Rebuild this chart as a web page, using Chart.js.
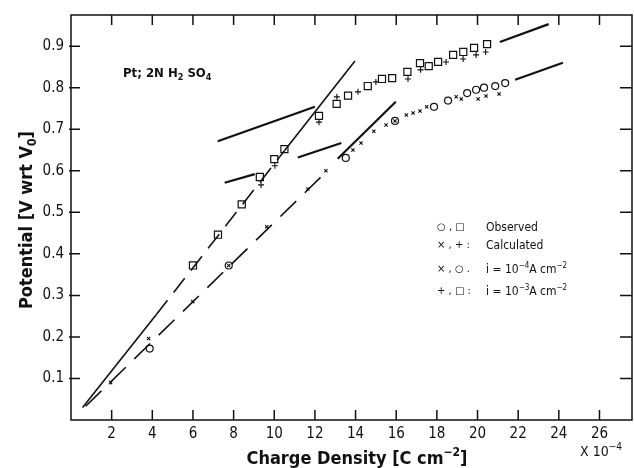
<!DOCTYPE html>
<html>
<head>
<meta charset="utf-8">
<script src="https://cdn.jsdelivr.net/npm/chart.js@4.4.1/dist/chart.umd.min.js"></script>
<style>
  html, body { margin: 0; padding: 0; background: #fff; }
  #wrap { width: 634px; height: 468px; }
</style>
</head>
<body>
<div id="wrap"><canvas id="chart" width="634" height="468"></canvas></div>
<script>
const NARROW = '"Liberation Sans Narrow", "Arial Narrow", "DejaVu Sans Condensed", "Liberation Sans", sans-serif';
const INK = '#111';

// tick labels
const xTicks = [2, 4, 6, 8, 10, 12, 14, 16, 18, 20, 22, 24, 26];
const yTicks = [0.1, 0.2, 0.3, 0.4, 0.5, 0.6, 0.7, 0.8, 0.9];

// observed, i = 1e-3 A cm-2 (squares)
const obsHighX = [6.0, 7.23, 8.4, 9.29, 10.0, 10.5, 12.2, 13.07, 13.63, 14.6, 15.3, 15.8, 16.55, 17.17, 17.6, 18.06, 18.8, 19.3, 19.83, 20.47];
const obsHighY = [0.372, 0.446, 0.519, 0.585, 0.628, 0.652, 0.732, 0.761, 0.781, 0.804, 0.821, 0.823, 0.838, 0.859, 0.852, 0.862, 0.879, 0.886, 0.896, 0.905];

// calculated, i = 1e-3 A cm-2 (plus)
const calcHighX = [9.35, 10.03, 12.2, 13.08, 14.12, 15.0, 16.58, 17.2, 18.45, 19.29, 19.93, 20.4];
const calcHighY = [0.566, 0.612, 0.717, 0.778, 0.79, 0.814, 0.821, 0.843, 0.862, 0.869, 0.879, 0.886];

// observed, i = 1e-4 A cm-2 (circles)
const obsLowX = [3.87, 7.76, 13.52, 15.94, 17.86, 18.55, 19.49, 19.93, 20.32, 20.87, 21.36];
const obsLowY = [0.172, 0.372, 0.631, 0.72, 0.754, 0.769, 0.787, 0.795, 0.8, 0.804, 0.811];

// calculated, i = 1e-4 A cm-2 (x)
const calcLowX = [1.95, 3.82, 5.99, 7.76, 9.63, 11.65, 12.54, 13.87, 14.27, 14.9, 15.5, 15.94, 16.5, 16.83, 17.17, 17.5, 18.95, 19.2, 20.03, 20.42, 21.06];
const calcLowY = [0.09, 0.196, 0.285, 0.372, 0.465, 0.556, 0.6, 0.65, 0.667, 0.695, 0.71, 0.72, 0.734, 0.739, 0.744, 0.754, 0.778, 0.773, 0.773, 0.78, 0.785];

// fitted curves (middle piece of the upper one is dashed)
const highFitX = [0.57, 4.2, 10.5, 13.97];
const highFitY = [0.03, 0.254, 0.648, 0.864];
const lowFitX = [0.72, 12.4];
const lowFitY = [0.033, 0.59];

// short solid segments
const segments = [
  { x: [7.22, 12.0], y: [0.671, 0.754] },
  { x: [7.56, 9.04], y: [0.571, 0.592] },
  { x: [11.16, 13.3], y: [0.632, 0.667] },
  { x: [13.12, 15.98], y: [0.629, 0.766] },
  { x: [21.1, 23.5], y: [0.91, 0.953] },
  { x: [21.85, 24.2], y: [0.819, 0.86] }
];

const pts = (xs, ys) => xs.map((x, i) => ({ x, y: ys[i] }));

function markers(xs, ys, style, r, w) {
  return {
    data: pts(xs, ys), showLine: false,
    pointStyle: style, pointRadius: r, pointBorderWidth: w,
    pointBorderColor: INK, pointBackgroundColor: 'rgba(0,0,0,0)', order: 1
  };
}

function line(xs, ys, width, dash) {
  return {
    data: pts(xs, ys), showLine: true, pointRadius: 0,
    borderColor: INK, borderWidth: width, borderDash: dash || [], order: 2
  };
}

// rich text: parts = [[text, 'n' | 'sup' | 'sub'], ...]
function partFont(k, size, weight) {
  const s = k === 'n' ? size : Math.round(size * 0.68);
  return `${weight} ${s}px ${NARROW}`;
}
function richWidth(ctx, parts, size, weight) {
  let w = 0;
  parts.forEach(([t, k]) => { ctx.font = partFont(k, size, weight); w += ctx.measureText(t).width; });
  return w;
}
function richText(ctx, x, y, parts, size, weight) {
  let cx = x;
  ctx.textAlign = 'left';
  ctx.textBaseline = 'alphabetic';
  parts.forEach(([t, k]) => {
    ctx.font = partFont(k, size, weight);
    const dy = k === 'sup' ? -size * 0.42 : k === 'sub' ? size * 0.22 : 0;
    ctx.fillText(t, cx, y + dy);
    cx += ctx.measureText(t).width;
  });
}

const framePlugin = {
  id: 'frame',
  afterDraw(chart) {
    const { ctx, chartArea: a, scales: { x, y } } = chart;
    ctx.save();
    ctx.strokeStyle = INK;
    ctx.fillStyle = INK;
    ctx.lineWidth = 1.5;
    ctx.strokeRect(a.left, a.top, a.right - a.left, a.bottom - a.top);

    // inward tick marks on all four sides
    ctx.beginPath();
    xTicks.forEach(v => {
      const px = x.getPixelForValue(v);
      ctx.moveTo(px, a.bottom); ctx.lineTo(px, a.bottom - 10);
      ctx.moveTo(px, a.top); ctx.lineTo(px, a.top + 10);
    });
    yTicks.forEach(v => {
      const py = y.getPixelForValue(v);
      ctx.moveTo(a.left - 2, py); ctx.lineTo(a.left + 9, py);
      ctx.moveTo(a.right, py); ctx.lineTo(a.right - 12, py);
    });
    ctx.stroke();

    // annotation
    richText(ctx, 123, 77, [['Pt; 2N H', 'n'], ['2', 'sub'], [' SO', 'n'], ['4', 'sub']], 13, 'bold');

    // legend block
    const rows = [
      { sym: '○ , □', y: 227, parts: [['Observed', 'n']] },
      { sym: '× , + :', y: 245, parts: [['Calculated', 'n']] },
      { sym: '× , ○ .', y: 269, parts: [['i = 10', 'n'], ['−4', 'sup'], ['A cm', 'n'], ['−2', 'sup']] },
      { sym: '+ , □ :', y: 291, parts: [['i = 10', 'n'], ['−3', 'sup'], ['A cm', 'n'], ['−2', 'sup']] }
    ];
    rows.forEach(r => {
      ctx.font = `10px "DejaVu Sans", sans-serif`;
      ctx.textAlign = 'left';
      ctx.textBaseline = 'middle';
      ctx.fillText(r.sym, 437, r.y);
      richText(ctx, 486, r.y + 4, r.parts, 12, 'normal');
    });

    // axis titles
    const yt = [['Potential [V wrt V', 'n'], ['0', 'sub'], [']', 'n']];
    const yw = richWidth(ctx, yt, 18, 'bold');
    ctx.save();
    ctx.translate(32, 220);
    ctx.rotate(-Math.PI / 2);
    richText(ctx, -yw / 2, 0, yt, 18, 'bold');
    ctx.restore();

    const xt = [['Charge Density [C cm', 'n'], ['−2', 'sup'], [']', 'n']];
    const xw = richWidth(ctx, xt, 18, 'bold');
    richText(ctx, 357 - xw / 2, 464, xt, 18, 'bold');

    richText(ctx, 580, 456, [['X 10', 'n'], ['−4', 'sup']], 14, 'normal');
    ctx.restore();
  }
};

const datasets = [
  markers(obsHighX, obsHighY, 'rect', 5, 1.2),
  markers(calcHighX, calcHighY, 'cross', 3, 1.1),
  markers(obsLowX, obsLowY, 'circle', 3.5, 1.2),
  markers(calcLowX, calcLowY, 'crossRot', 2.3, 1.1),
  Object.assign(line(highFitX, highFitY, 1.6), {
    segment: { borderDash: c => c.p0DataIndex === 1 ? [18, 10] : [] }
  }),
  line(lowFitX, lowFitY, 1.6, [22, 12]),
  ...segments.map(s => line(s.x, s.y, 2.2))
];

new Chart(document.getElementById('chart').getContext('2d'), {
  type: 'scatter',
  data: { datasets },
  options: {
    responsive: false,
    animation: false,
    layout: { autoPadding: false, padding: { top: 15, right: 2, left: 0, bottom: 0 } },
    plugins: { legend: { display: false }, tooltip: { enabled: false } },
    scales: {
      x: {
        type: 'linear', min: 0, max: 27.6,
        afterBuildTicks: s => { s.ticks = xTicks.map(v => ({ value: v })); },
        afterFit: s => { s.height = 48; s.paddingLeft = 0; s.paddingRight = 0; },
        grid: { display: false, drawTicks: false },
        border: { display: false },
        ticks: { padding: 5, color: INK, maxRotation: 0, autoSkip: false, font: { family: NARROW, size: 15 } }
      },
      y: {
        type: 'linear', min: 0, max: 0.975,
        afterBuildTicks: s => { s.ticks = yTicks.map(v => ({ value: v })); },
        afterFit: s => { s.width = 71; s.paddingTop = 0; s.paddingBottom = 0; },
        grid: { display: false, drawTicks: false },
        border: { display: false },
        ticks: { padding: 7, color: INK, callback: v => v.toFixed(1), font: { family: NARROW, size: 15 } }
      }
    }
  },
  plugins: [framePlugin]
});
</script>
</body>
</html>
